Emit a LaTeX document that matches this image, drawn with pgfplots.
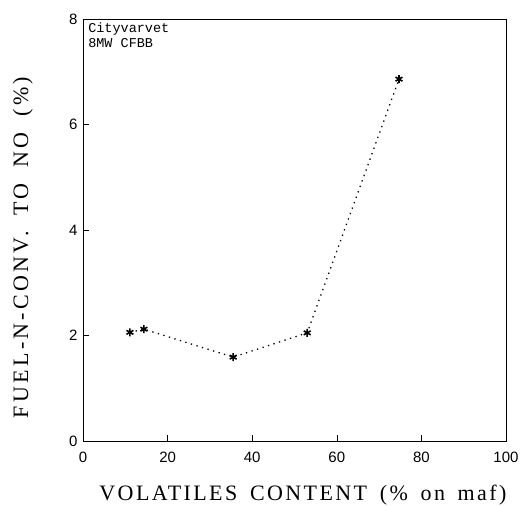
\documentclass[border=0pt]{standalone}
\usepackage{fontspec}
\setmainfont{Liberation Serif}
\newfontfamily\xlabfont[LetterSpace=11,WordSpace=1.6]{Liberation Serif}
\newfontfamily\ylabfont[LetterSpace=15,WordSpace=1.8]{Liberation Serif}
\newfontfamily\tickfont{Liberation Sans}
\newfontfamily\notefont{Liberation Mono}
\usepackage{pgfplots}
\pgfplotsset{compat=1.18}
\begin{document}
\begin{tikzpicture}
\begin{axis}[
  scale only axis,
  width=423bp, height=422bp,
  xmin=0, xmax=100, ymin=0, ymax=8,
  xtick={0,20,...,100}, ytick={0,2,...,8},
  tick align=inside,
  xtick pos=bottom, ytick pos=left,
  major tick length=6bp,
  tick style={black, semithick},
  axis line style={black, semithick},
  ticklabel style={font=\tickfont\fontsize{15bp}{17bp}\selectfont},
  xticklabel style={yshift=-8bp},
  yticklabel style={xshift=-2bp},
  /pgf/number format/assume math mode=true,
  xlabel={\xlabfont\fontsize{22bp}{24bp}\selectfont VOLATILES CONTENT (\% on maf)},
  ylabel={\ylabfont\fontsize{22bp}{24bp}\selectfont FUEL-N-CONV. TO NO (\%)},
  xlabel style={anchor=center, at={(axis description cs:0.52,-0.128)}},
  ylabel style={anchor=center, at={(axis description cs:-0.142,0.4585)}},
]
\addplot[black, dash pattern=on 1.3pt off 4.5pt, line width=1.3pt,
  mark=asterisk, mark size=4pt,
  mark options={solid, line width=1.6pt}]
  coordinates {
    (11.1, 2.06)
    (14.4, 2.12)
    (35.5, 1.59)
    (53.0, 2.05)
    (74.7, 6.86)
  };
\node[anchor=north west, align=left, inner sep=0pt,
  font=\notefont\fontsize{13.5bp}{15bp}\selectfont]
  at (rel axis cs:0.012,0.992) {Cityvarvet\\8MW CFBB};
\end{axis}
\pgfresetboundingbox
\path (-83bp,-66bp) rectangle (439bp,441bp);
\end{tikzpicture}
\end{document}
